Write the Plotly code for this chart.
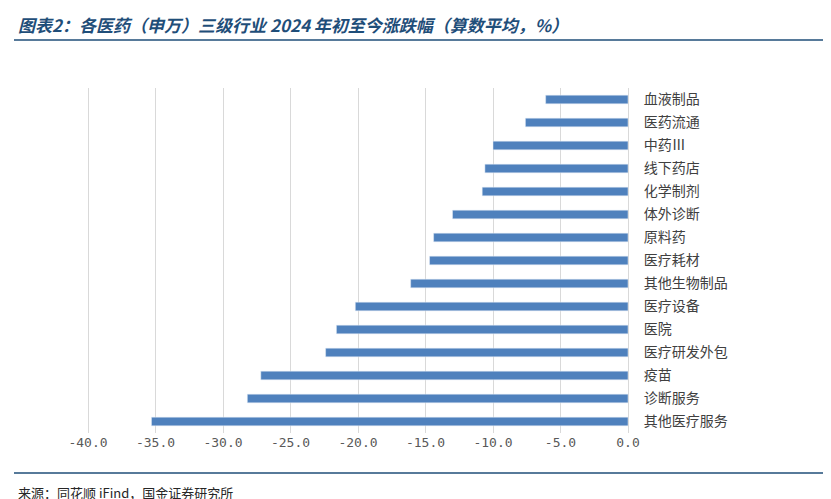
import plotly.graph_objects as go

categories = ["血液制品","医药流通","中药Ⅲ","线下药店","化学制剂","体外诊断","原料药","医疗耗材",
              "其他生物制品","医疗设备","医院","医疗研发外包","疫苗","诊断服务","其他医疗服务"]
values = [-6.1,-7.6,-10.0,-10.6,-10.8,-13.0,-14.4,-14.7,-16.1,-20.2,-21.6,-22.4,-27.2,-28.2,-35.3]
tickvals = [-40,-35,-30,-25,-20,-15,-10,-5,0]
ticktext = ["-40.0","-35.0","-30.0","-25.0","-20.0","-15.0","-10.0","-5.0","0.0"]

font = "Noto Sans CJK SC"
W, H, L, R, T, B = 831, 499, 78, 211, 80, 74
pw, ph = W - L - R, H - T - B
def px(x): return (x - L) / pw
def py(y): return (H - B - y) / ph

fig = go.Figure(go.Bar(x=values, y=categories, orientation="h", marker_color="#4f81bd", width=0.38))
fig.update_layout(
    width=W, height=H, plot_bgcolor="white", paper_bgcolor="white",
    margin=dict(l=L, r=R, t=T, b=B), showlegend=False,
    font=dict(family=font, size=14, color="#404040"),
    xaxis=dict(range=[-40.15, 0], tickvals=tickvals, ticktext=ticktext, showgrid=True,
               gridcolor="#d9d9d9", zeroline=False, automargin=False,
               tickfont=dict(size=13, color="#595959", family="DejaVu Sans Mono")),
    yaxis=dict(autorange="reversed", side="right", showgrid=False, ticklabelstandoff=12,
               automargin=False, showline=True, linecolor="#d9d9d9",
               tickfont=dict(size=14, color="#404040")),
    shapes=[
        dict(type="line", xref="paper", yref="paper", x0=px(6), x1=px(826), y0=py(32), y1=py(32),
             line=dict(color="#1f4e79", width=1.5)),
        dict(type="line", xref="paper", yref="paper", x0=px(6), x1=px(826), y0=py(465), y1=py(465),
             line=dict(color="#1f4e79", width=1.5)),
    ],
    annotations=[
        dict(text="<b><i>图表2：各医药（申万）三级行业 2024 年初至今涨跌幅（算数平均，%）</i></b>",
             xref="paper", yref="paper", x=px(8), y=py(16), xanchor="left", yanchor="middle",
             showarrow=False, font=dict(size=17, color="#1f4e79", family=font)),
        dict(text="来源：同花顺 iFind，国金证券研究所", xref="paper", yref="paper",
             x=px(8), y=py(484), xanchor="left", yanchor="middle", showarrow=False,
             font=dict(size=13, color="#262626", family=font)),
    ],
)
fig.write_html("out.html")
